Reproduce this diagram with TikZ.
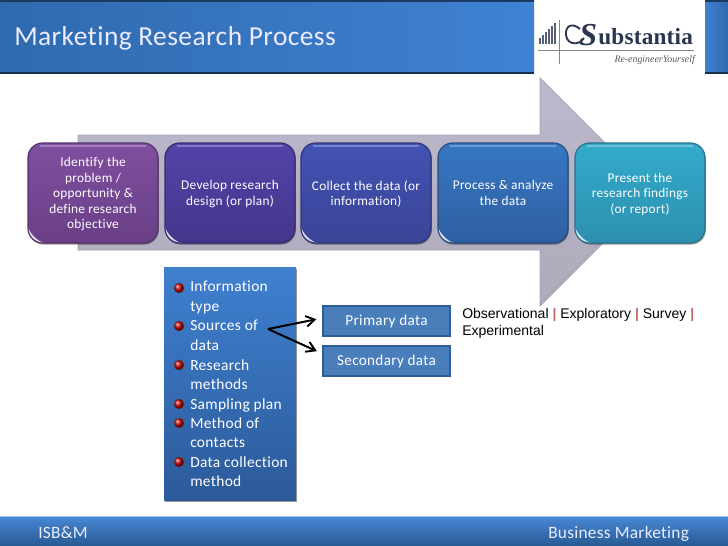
\documentclass[tikz,border=0pt]{standalone}
\usepackage{fontspec}
\setmainfont{Carlito}[Ligatures=CommonOff]
\newfontfamily\obsfont{Liberation Sans}
\newfontfamily\logofont{Liberation Serif}
\usetikzlibrary{shadows,arrows.meta,calc,shadings}
\definecolor{arrowfill}{HTML}{BDB9CC}
\definecolor{arrowedge}{HTML}{A6A2B6}
\definecolor{barL}{HTML}{2F6AAE}
\definecolor{barR}{HTML}{3F82D3}
\definecolor{logoink}{HTML}{2A3650}
\definecolor{boxfill}{HTML}{4A7EBB}
\definecolor{boxedge}{HTML}{2F5D91}
\definecolor{panelT}{HTML}{3F80D0}
\definecolor{panelB}{HTML}{2C5A99}
\definecolor{sAt}{HTML}{7E4F9F}\definecolor{sAb}{HTML}{6A3F86}
\definecolor{sBt}{HTML}{5244A8}\definecolor{sBb}{HTML}{46358C}
\definecolor{sCt}{HTML}{4353B4}\definecolor{sCb}{HTML}{3A4496}
\definecolor{sDt}{HTML}{3777C2}\definecolor{sDb}{HTML}{2F5FA2}
\definecolor{sEt}{HTML}{33ABCB}\definecolor{sEb}{HTML}{2D8FAF}
\definecolor{sepred}{HTML}{C96A6A}
\newcommand\nudgedown{\\[-11.7pt]}
\tikzset{
  x=0.75pt,y=-0.75pt,
  softshadow/.style={drop shadow={shadow xshift=0.6pt,shadow yshift=-1.2pt,opacity=.4,fill=black}},
  stepbox/.style n args={2}{
    rounded corners=11pt,minimum width=97.5pt,minimum height=75pt,inner sep=2pt,
    draw=#2!80!black,line width=0.9pt,top color=#1,bottom color=#2,softshadow,
    text=white,align=center,font=\fontsize{10}{11.7}\selectfont\addfontfeatures{LetterSpace=2},
    path picture={
      \fill[white,opacity=.8,sharp corners] ([yshift=12pt]path picture bounding box.south west)
        .. controls +(1.5pt,-5pt) and +(-5pt,1.5pt) .. ([xshift=12pt]path picture bounding box.south west)
        -- (path picture bounding box.south west) -- cycle;
      \fill[white,opacity=.28,sharp corners] ([xshift=9pt,yshift=-1.2pt]path picture bounding box.north west) rectangle ([xshift=-9pt,yshift=-3.2pt]path picture bounding box.north east);
    }},
  databox/.style={minimum width=95.25pt,minimum height=22.5pt,inner sep=0pt,
    fill=boxfill,draw=boxedge,line width=1pt,text=white,
    font=\fontsize{11.4}{13}\selectfont\addfontfeatures{LetterSpace=2}},
  listitem/.style={anchor=north west,inner sep=0pt,align=left,text=white,
    font=\fontsize{11.6}{14.6}\selectfont\addfontfeatures{LetterSpace=2}},
  bulletdot/.style={circle,minimum size=7.6pt,inner sep=0pt,ball color=red!75!black,draw=black!70,line width=.3pt},
  forkarrow/.style={-{Straight Barb[length=6.5pt,width=8pt,line width=1.4pt]},line width=1.5pt,black,shorten >=4.5pt},
  bartext/.style={text=white!92!blue,inner sep=0pt},
}
\begin{document}
\begin{tikzpicture}
\useasboundingbox (0,0) rectangle (728,546);
\fill[white] (0,0) rectangle (728,546);

% title bars
\shade[left color=barL,right color=barR] (0,0) rectangle (534,73);
\shade[left color=barR,right color=barL] (705,0) rectangle (728,73);
\fill[black!55!barL] (0,72) rectangle (534,74);
\fill[black!55!barL] (705,72) rectangle (728,74);
\fill[black!45!barL] (0,0) rectangle (534,1.5);
\fill[black!45!barL] (705,0) rectangle (728,1.5);
\node[bartext,anchor=base west,font=\fontsize{20.6}{24}\selectfont\addfontfeatures{LetterSpace=1.5}] (title) at (14,45) {Marketing Research Process};

% logo
\foreach \bx/\bt in {540/38,543/35,546/32,549/29,552/26,555/23}{
  \draw[logoink!80,line width=1pt] (\bx,44) -- (\bx,\bt);}
\draw[logoink!60,line width=.6pt] (559,20) -- (559,64);
\draw[logoink!60,line width=.6pt] (538,50) -- (694,50);
\draw[logoink,line width=1.4pt] (580,29) .. controls (572,22) and (565,26) .. (566,35)
  .. controls (567,45) and (579,46) .. (584,38);
\node[inner sep=0pt,anchor=base west,text=logoink,font=\logofont\fontsize{24}{26}\selectfont\itshape\bfseries] (logoS) at (579,45) {S};
\node[inner sep=0pt,anchor=base west,text=logoink,font=\logofont\fontsize{17.4}{24}\selectfont\bfseries\addfontfeatures{LetterSpace=1}] (logoT) at (598,44) {ubstantia};
\node[inner sep=0pt,anchor=base east,text=black!65,font=\logofont\fontsize{7.4}{8}\selectfont\itshape] (logoU) at (695,62) {Re-engineerYourself};

% big arrow
\shade[top color=arrowfill,bottom color=arrowfill!92!black,draw=arrowedge,line width=.6pt]
  (78,135) -- (540,135) -- (540,78) -- (654,192) -- (540,306) -- (540,250) -- (78,250) -- cycle;

% process boxes
\node[stepbox={sAt}{sAb}] (s1) at (93,193) {Identify the\\problem /\\opportunity \&\\define research\\objective\nudgedown};
\node[stepbox={sBt}{sBb}] (s2) at (230,193) {Develop research\\design (or plan)\nudgedown};
\node[stepbox={sCt}{sCb}] (s3) at (366,193) {Collect the data (or\\information)\nudgedown};
\node[stepbox={sDt}{sDb}] (s4) at (503,193) {Process \& analyze\\the data\nudgedown};
\node[stepbox={sEt}{sEb}] (s5) at (640,193) {Present the\\research findings\\(or report)\nudgedown};

% list panel
\node[minimum width=99pt,minimum height=174.75pt,inner sep=0pt,top color=panelT,bottom color=panelB,softshadow] (panel) at (230,383.5) {};
\node[listitem] (l1) at (190,281) {Information\\type};
\node[listitem] (l2) at (190,320) {Sources of\\data};
\node[listitem] (l3) at (190,359) {Research\\methods};
\node[listitem] (l4) at (190,398) {Sampling plan};
\node[listitem] (l5) at (190,417.5) {Method of\\contacts};
\node[listitem] (l6) at (190,456.5) {Data collection\\method};
\node[bulletdot] (b1) at (179,288) {};
\node[bulletdot] (b2) at (179,326) {};
\node[bulletdot] (b3) at (179,365) {};
\node[bulletdot] (b4) at (179,404) {};
\node[bulletdot] (b5) at (179,423) {};
\node[bulletdot] (b6) at (179,462) {};

% data boxes and fork
\node[databox] (prim) at (386.5,321) {Primary data};
\node[databox] (sec) at (386.5,361) {Secondary data};
\coordinate (fork) at (268,329);
\draw[forkarrow] (fork) -- ([yshift=2.2pt]prim.west);
\draw[forkarrow] (fork) -- ([yshift=5.5pt]sec.west);

% methods text
\node[anchor=north west,inner sep=0pt,align=left,font=\obsfont\fontsize{10.5}{12.8}\selectfont] (obs) at (462,308.5)
  {Observational {\color{sepred}\textbf{|}} Exploratory {\color{sepred}\textbf{|}} Survey {\color{sepred}\textbf{|}}\\Experimental};

% footer
\shade[top color=barR!95!white,bottom color=barL!85!black] (0,516) rectangle (728,546);
\fill[barR!50!white] (0,515.5) rectangle (728,517);
\node[bartext,anchor=base west,font=\fontsize{13}{15}\selectfont\addfontfeatures{LetterSpace=1.5}] (isb) at (38,538) {ISB\&M};
\node[bartext,anchor=base west,font=\fontsize{13}{15}\selectfont\addfontfeatures{LetterSpace=1.5}] (bm) at (548,538) {Business Marketing};
\end{tikzpicture}
\end{document}
